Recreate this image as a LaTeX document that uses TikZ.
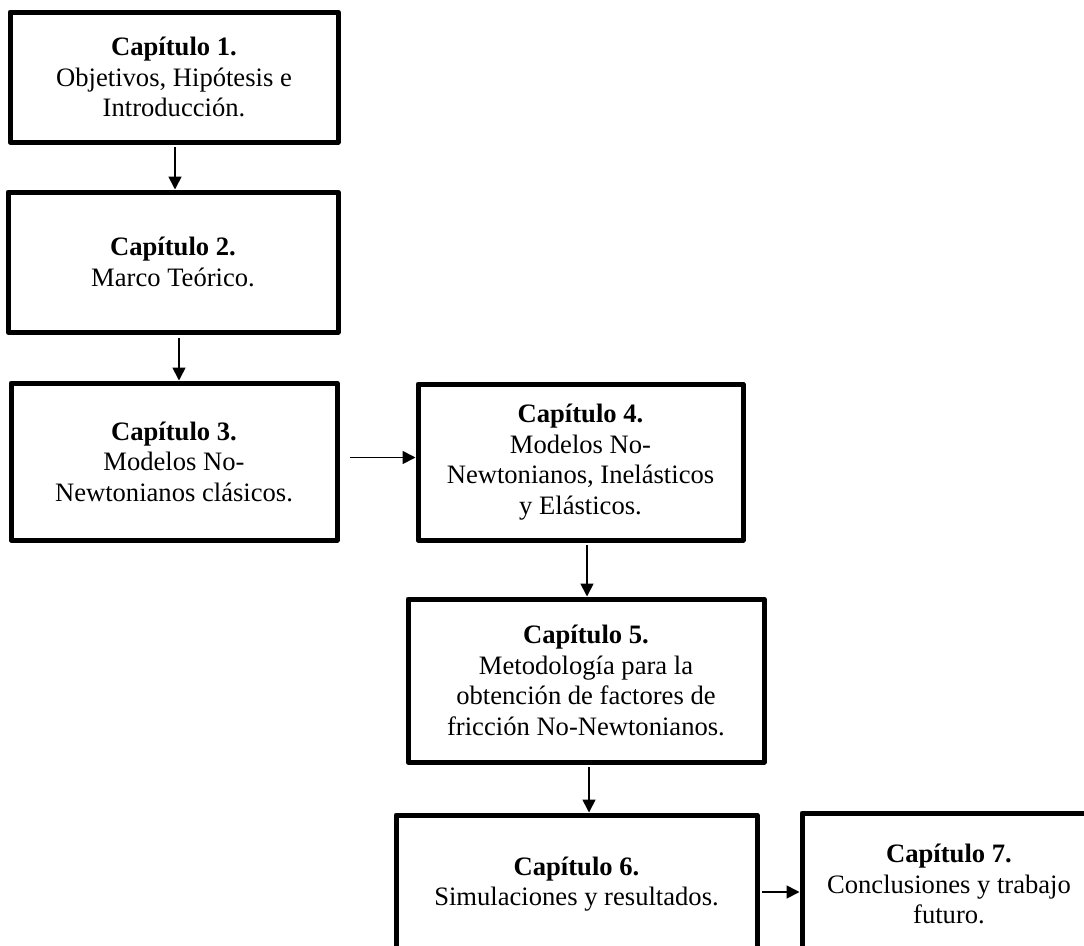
\documentclass[tikz,border=0pt]{standalone}
\usepackage{fontspec}
\setmainfont{Liberation Serif}
\usetikzlibrary{arrows.meta}
\tikzset{
  chbox/.style={draw=black, line width=5pt, line join=round, fill=white, inner sep=0pt,
    align=center, font=\fontsize{26.6}{30.5}\selectfont, text=black},
  arr/.style={draw=black, line width=1.7pt, -{Triangle[length=13pt,width=13pt]}}
}
\begin{document}
\begin{tikzpicture}[x=1pt,y=-1pt]
\useasboundingbox (0,0) rectangle (1084,945);
\clip (0,0) rectangle (1084,945);
\fill[white] (0,0) rectangle (1084,945);
\node[chbox, minimum width=328pt, minimum height=130pt] (b1) at (174,77)
  {\textbf{Capítulo 1.}\\Objetivos, Hipótesis e\\Introducción.};
\node[chbox, minimum width=330pt, minimum height=140pt] (b2) at (173,262)
  {\textbf{Capítulo 2.}\\Marco Teórico.};
\node[chbox, minimum width=326pt, minimum height=157pt] (b3) at (174,461.5)
  {\textbf{Capítulo 3.}\\Modelos No-\\Newtonianos clásicos.};
\node[chbox, minimum width=325pt, minimum height=156pt] (b4) at (580.5,462)
  {\textbf{Capítulo 4.}\\Modelos No-\\Newtonianos, Inelásticos\\y Elásticos.};
\node[chbox, minimum width=356pt, minimum height=163pt] (b5) at (586,680.5)
  {\textbf{Capítulo 5.}\\Metodología para la\\obtención de factores de\\fricción No-Newtonianos.};
\node[chbox, minimum width=361pt, minimum height=138pt] (b6) at (576.5,884)
  {\textbf{Capítulo 6.}\\Simulaciones y resultados.};
\node[chbox, minimum width=294pt, minimum height=142pt] (b7) at (949,884)
  {\textbf{Capítulo 7.}\\Conclusiones y trabajo\\futuro.};
\draw[arr] ([xshift=1pt,yshift=-2.5pt]b1.south) -- ([xshift=1pt]b1.south |- b2.north);
\draw[arr] ([xshift=6pt,yshift=-3pt]b2.south) -- ([xshift=6pt]b2.south |- b3.north);
\draw[arr] ([xshift=10pt,yshift=4pt]b3.east) -- ([yshift=4pt]b3.east -| b4.west);
\draw[arr] ([xshift=6.5pt,yshift=-2.5pt]b4.south) -- ([xshift=6.5pt]b4.south |- b5.north);
\draw[arr] ([xshift=3pt,yshift=-2.5pt]b5.south) -- ([xshift=3pt]b5.south |- b6.north);
\draw[arr] ([xshift=2.5pt,yshift=-8pt]b6.east) -- ([yshift=-8pt]b6.east -| b7.west);
\end{tikzpicture}
\end{document}
